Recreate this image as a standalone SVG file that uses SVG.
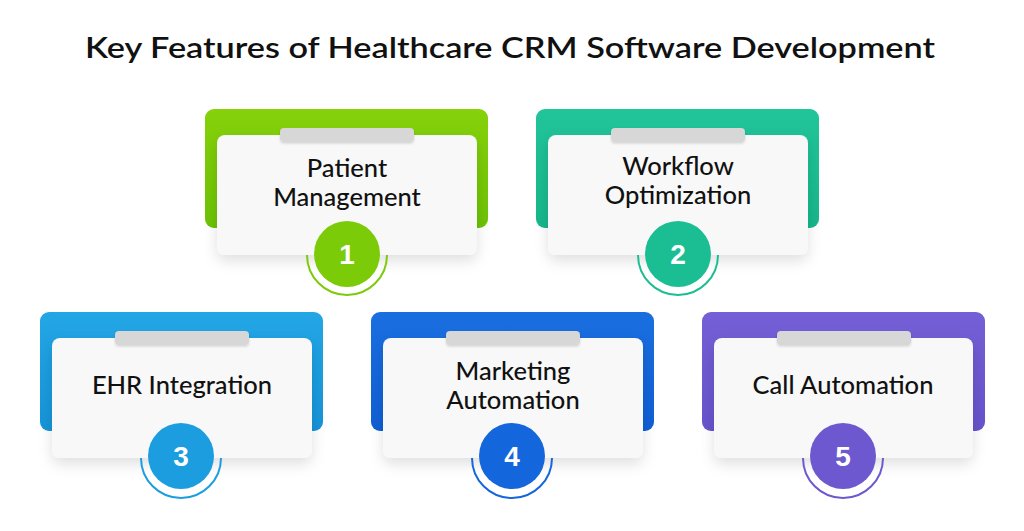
<svg xmlns="http://www.w3.org/2000/svg" width="1024" height="531" viewBox="0 0 1024 531">
<defs>
<filter id="sh" x="-20%" y="-20%" width="140%" height="160%">
<feDropShadow dx="0" dy="6" stdDeviation="7" flood-color="#000" flood-opacity="0.12"/>
</filter>
<filter id="bsh" x="-10%" y="-50%" width="120%" height="220%">
<feDropShadow dx="0" dy="1.5" stdDeviation="1.2" flood-color="#000" flood-opacity="0.15"/>
</filter>
<linearGradient id="g1" x1="0" y1="0" x2="0" y2="1"><stop offset="0" stop-color="#86d10a"/><stop offset="1" stop-color="#6cc204"/></linearGradient>
<linearGradient id="g2" x1="0" y1="0" x2="0" y2="1"><stop offset="0" stop-color="#22c49a"/><stop offset="1" stop-color="#16b68a"/></linearGradient>
<linearGradient id="g3" x1="0" y1="0" x2="0" y2="1"><stop offset="0" stop-color="#23a6e6"/><stop offset="1" stop-color="#1593d8"/></linearGradient>
<linearGradient id="g4" x1="0" y1="0" x2="0" y2="1"><stop offset="0" stop-color="#1a6fe0"/><stop offset="1" stop-color="#0f5ed4"/></linearGradient>
<linearGradient id="g5" x1="0" y1="0" x2="0" y2="1"><stop offset="0" stop-color="#755fd6"/><stop offset="1" stop-color="#6753cb"/></linearGradient>
</defs>
<style>
.card{fill:#f8f8f8;filter:url(#sh)}
.bar{fill:#d7d7d7;filter:url(#bsh)}
.lbl{font-family:"Lato","Liberation Sans",sans-serif;font-weight:500;font-size:25.5px;fill:#111;text-anchor:middle}
.num{font-family:"Liberation Sans","Arial",sans-serif;font-weight:700;font-size:28px;fill:#fff;text-anchor:middle}
.ring{fill:none;stroke-width:2}
.title{font-family:"Lato","Liberation Sans",sans-serif;font-weight:600;font-size:29px;fill:#111;text-anchor:middle}
</style>
<rect width="1024" height="531" fill="#ffffff"/>
<text class="title" x="510" y="58" textLength="850" lengthAdjust="spacingAndGlyphs">Key Features of Healthcare CRM Software Development</text>

<g id="node1">
<rect x="205" y="109" width="283" height="119" rx="9" fill="url(#g1)"/>
<rect class="card" x="217" y="135" width="260" height="120" rx="8"/>
<rect class="bar" x="280" y="128" width="134" height="14" rx="4"/>
<text class="lbl" x="347" y="177">Patient</text>
<text class="lbl" x="347" y="206">Management</text>
<path class="ring" stroke="#7ccb08" d="M307 255 A40 40 0 0 0 387 255"/>
<circle cx="347" cy="254" r="33" fill="#7ccb08"/>
<text class="num" x="347" y="264">1</text>
</g>

<g id="node2">
<rect x="536" y="109" width="283" height="119" rx="9" fill="url(#g2)"/>
<rect class="card" x="548" y="135" width="260" height="120" rx="8"/>
<rect class="bar" x="611" y="128" width="134" height="14" rx="4"/>
<text class="lbl" x="678" y="175">Workflow</text>
<text class="lbl" x="678" y="204">Optimization</text>
<path class="ring" stroke="#1bbe93" d="M638 255 A40 40 0 0 0 718 255"/>
<circle cx="678" cy="254" r="33" fill="#1bbe93"/>
<text class="num" x="678" y="264">2</text>
</g>

<g id="node3">
<rect x="40" y="312" width="283" height="119" rx="9" fill="url(#g3)"/>
<rect class="card" x="52" y="338" width="260" height="120" rx="8"/>
<rect class="bar" x="115" y="331" width="134" height="14" rx="4"/>
<text class="lbl" x="182" y="394">EHR Integration</text>
<path class="ring" stroke="#1b9de0" d="M141 458 A40 40 0 0 0 221 458"/>
<circle cx="181" cy="456" r="33" fill="#1b9de0"/>
<text class="num" x="181" y="466">3</text>
</g>

<g id="node4">
<rect x="371" y="312" width="283" height="119" rx="9" fill="url(#g4)"/>
<rect class="card" x="383" y="338" width="260" height="120" rx="8"/>
<rect class="bar" x="446" y="331" width="134" height="14" rx="4"/>
<text class="lbl" x="513" y="380">Marketing</text>
<text class="lbl" x="513" y="409">Automation</text>
<path class="ring" stroke="#1466dc" d="M472 458 A40 40 0 0 0 552 458"/>
<circle cx="512" cy="456" r="33" fill="#1466dc"/>
<text class="num" x="512" y="466">4</text>
</g>

<g id="node5">
<rect x="702" y="312" width="283" height="119" rx="9" fill="url(#g5)"/>
<rect class="card" x="714" y="338" width="259" height="120" rx="8"/>
<rect class="bar" x="777" y="331" width="134" height="14" rx="4"/>
<text class="lbl" x="843" y="394">Call Automation</text>
<path class="ring" stroke="#6d58cf" d="M803 458 A40 40 0 0 0 883 458"/>
<circle cx="843" cy="456" r="33" fill="#6d58cf"/>
<text class="num" x="843" y="466">5</text>
</g>

<g id="connectors"></g>
</svg>
